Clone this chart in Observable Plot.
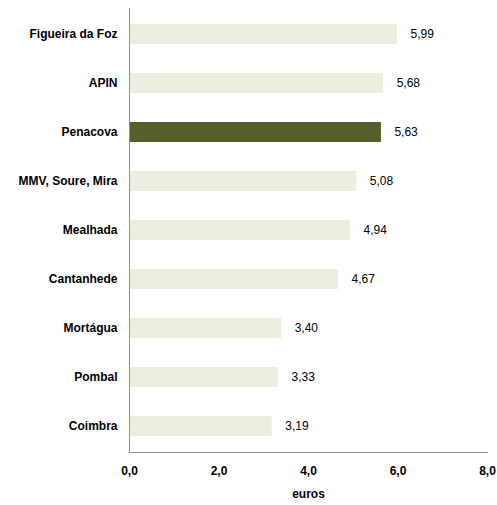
<!DOCTYPE html>
<html><head><meta charset="utf-8">
<script src="https://cdn.jsdelivr.net/npm/d3@7"></script>
<script src="https://cdn.jsdelivr.net/npm/@observablehq/plot@0.6"></script>
<style>body{margin:0;background:#fff}</style>
</head><body><div id="chart"></div>
<script>
const categories = ["Figueira da Foz","APIN","Penacova","MMV, Soure, Mira","Mealhada","Cantanhede","Mortágua","Pombal","Coimbra"];
const values = [5.99,5.68,5.63,5.08,4.94,4.67,3.40,3.33,3.19];
const highlight = "Penacova";
const xTicks = [0,2,4,6,8];
const data = categories.map((c,i)=>({name:c, value:values[i]}));
const fmt1 = d => d.toFixed(1).replace(".", ",");
const fmt2 = d => d.toFixed(2).replace(".", ",");
const font = "'Liberation Sans Narrow','Arial Narrow','Liberation Sans',Arial,sans-serif";
const chart = Plot.plot({
  width: 497, height: 505,
  marginLeft: 129, marginRight: 10, marginTop: 8, marginBottom: 53,
  style: {fontFamily: font, fontSize: "12px", color:"#000", background:"#fff"},
  x: {domain:[0,8], ticks: xTicks, tickFormat: fmt1, label: null},
  y: {domain: categories, paddingInner: 0.6, paddingOuter: 0.3, label: null},
  marks: [
    Plot.barX(data, {x:"value", y:"name", fill: d => d.name===highlight ? "#52612a" : "#ebefdf"}),
    Plot.text(data, {x:"value", y:"name", text: d => fmt2(d.value), textAnchor:"start", dx:13, fontSize:12, fill:"#000"}),
    Plot.ruleX([0], {stroke:"#8c8c8c"}),
    Plot.frame({anchor:"bottom", stroke:"#8c8c8c"}),
    Plot.axisX({ticks: xTicks, tickFormat: fmt1, tickSize:0, tickPadding:14, fontWeight:"bold", fontSize:12, label:null}),
    Plot.axisY({tickSize:0, tickPadding:12, fontWeight:"bold", fontSize:12, label:null}),
    Plot.text(["euros"], {frameAnchor:"bottom", dy:45, fontWeight:"bold", fontSize:12, fill:"#000"})
  ]
});
document.getElementById("chart").appendChild(chart);
</script>
</body></html>
